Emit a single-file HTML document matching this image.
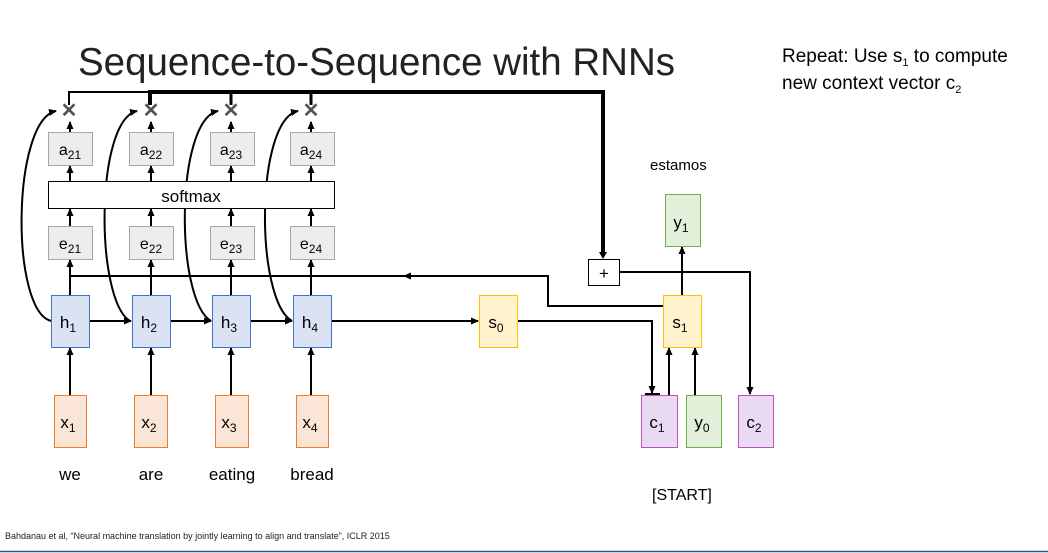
<!DOCTYPE html>
<html><head><meta charset="utf-8"><style>
html,body{margin:0;padding:0;background:#fff;}
svg{display:block;font-family:"Liberation Sans",sans-serif;}
</style></head><body>
<svg width="1048" height="553" viewBox="0 0 1048 553" xmlns="http://www.w3.org/2000/svg">
<defs>
<marker id="ah" markerWidth="8" markerHeight="8" refX="7" refY="4" orient="auto" markerUnits="userSpaceOnUse">
<path d="M0,0.5 L8,4 L0,7.5 z" fill="#000"/></marker>
</defs>
<text x="78" y="75" font-size="39" fill="#222" textLength="597" lengthAdjust="spacingAndGlyphs">Sequence-to-Sequence with RNNs</text>
<text x="782" y="62" font-size="19" fill="#000">Repeat: Use s<tspan font-size="11" dy="4">1</tspan><tspan dy="-4"> to compute</tspan></text>
<text x="782" y="89" font-size="19" fill="#000">new context vector c<tspan font-size="11" dy="4">2</tspan></text>
<text x="650" y="170" font-size="15">estamos</text>
<text x="652" y="500" font-size="16">[START]</text>
<text x="5" y="539" font-size="9" fill="#222">Bahdanau et al, “Neural machine translation by jointly learning to align and translate”, ICLR 2015</text>
<line x1="0" y1="551.5" x2="1048" y2="551.5" stroke="#2f5597" stroke-width="1.5"/>

<path d="M69,105 V92 H150" fill="none" stroke="#000" stroke-width="2"/>
<path d="M150,105 V92 H603 V253" fill="none" stroke="#000" stroke-width="4"/>
<path d="M599,252 L603,259 L607,252 z" fill="#000"/>
<line x1="231" y1="92" x2="231" y2="105" stroke="#000" stroke-width="3"/>
<line x1="311" y1="92" x2="311" y2="105" stroke="#000" stroke-width="3"/>

<g font-size="20" font-weight="bold" fill="#555" text-anchor="middle">
<text x="69" y="117">✕</text><text x="151" y="117">✕</text><text x="231" y="117">✕</text><text x="311" y="117">✕</text>
</g>

<g stroke="#000" stroke-width="2" fill="none">
<line x1="70" y1="132" x2="70" y2="122" marker-end="url(#ah)"/>
<line x1="151" y1="132" x2="151" y2="122" marker-end="url(#ah)"/>
<line x1="231" y1="132" x2="231" y2="122" marker-end="url(#ah)"/>
<line x1="311" y1="132" x2="311" y2="122" marker-end="url(#ah)"/>
<line x1="70" y1="181" x2="70" y2="166" marker-end="url(#ah)"/>
<line x1="151" y1="181" x2="151" y2="166" marker-end="url(#ah)"/>
<line x1="231" y1="181" x2="231" y2="166" marker-end="url(#ah)"/>
<line x1="311" y1="181" x2="311" y2="166" marker-end="url(#ah)"/>
<line x1="70" y1="226" x2="70" y2="209" marker-end="url(#ah)"/>
<line x1="151" y1="226" x2="151" y2="209" marker-end="url(#ah)"/>
<line x1="231" y1="226" x2="231" y2="209" marker-end="url(#ah)"/>
<line x1="311" y1="226" x2="311" y2="209" marker-end="url(#ah)"/>
<line x1="70" y1="295" x2="70" y2="260" marker-end="url(#ah)"/>
<line x1="151" y1="295" x2="151" y2="260" marker-end="url(#ah)"/>
<line x1="231" y1="295" x2="231" y2="260" marker-end="url(#ah)"/>
<line x1="311" y1="295" x2="311" y2="260" marker-end="url(#ah)"/>
<line x1="70" y1="395" x2="70" y2="348" marker-end="url(#ah)"/>
<line x1="151" y1="395" x2="151" y2="348" marker-end="url(#ah)"/>
<line x1="231" y1="395" x2="231" y2="348" marker-end="url(#ah)"/>
<line x1="311" y1="395" x2="311" y2="348" marker-end="url(#ah)"/>
<line x1="89" y1="321" x2="131" y2="321" marker-end="url(#ah)"/>
<line x1="170" y1="321" x2="211" y2="321" marker-end="url(#ah)"/>
<line x1="250" y1="321" x2="292" y2="321" marker-end="url(#ah)"/>
<line x1="331" y1="321" x2="478" y2="321" marker-end="url(#ah)"/>
<path d="M51,321 C10,310 12,120 56,111" marker-end="url(#ah)"/>
<path d="M130,321 C95,300 95,120 137,111" marker-end="url(#ah)"/>
<path d="M211,321 C175,300 175,120 218,111" marker-end="url(#ah)"/>
<path d="M292,321 C255,300 255,120 298,111" marker-end="url(#ah)"/>
<path d="M663,306 H548 V276 H70"/>
<line x1="420" y1="276" x2="404" y2="276" marker-end="url(#ah)"/>
<path d="M517,321 H652 V393" marker-end="url(#ah)"/>
<line x1="645" y1="394" x2="660" y2="394"/>
<line x1="669" y1="395" x2="669" y2="348" marker-end="url(#ah)"/>
<line x1="695" y1="395" x2="695" y2="348" marker-end="url(#ah)"/>
<line x1="682" y1="295" x2="682" y2="247" marker-end="url(#ah)"/>
<path d="M620,272 H750 V394" marker-end="url(#ah)"/>
</g>

<g fill="#ededed" stroke="#a6a6a6">
<rect x="48.5" y="132.5" width="44" height="33"/><rect x="129.5" y="132.5" width="44" height="33"/><rect x="210.5" y="132.5" width="44" height="33"/><rect x="290.5" y="132.5" width="44" height="33"/>
<rect x="48.5" y="226.5" width="44" height="33"/><rect x="129.5" y="226.5" width="44" height="33"/><rect x="210.5" y="226.5" width="44" height="33"/><rect x="290.5" y="226.5" width="44" height="33"/>
</g>
<rect x="48.5" y="181.5" width="286" height="27" fill="#fff" stroke="#000"/>
<text x="191" y="202" font-size="17" text-anchor="middle">softmax</text>
<g font-size="16" text-anchor="middle">
<text x="70" y="155">a<tspan font-size="12" dy="4">21</tspan></text>
<text x="151" y="155">a<tspan font-size="12" dy="4">22</tspan></text>
<text x="231" y="155">a<tspan font-size="12" dy="4">23</tspan></text>
<text x="311" y="155">a<tspan font-size="12" dy="4">24</tspan></text>
<text x="70" y="249">e<tspan font-size="12" dy="4">21</tspan></text>
<text x="151" y="249">e<tspan font-size="12" dy="4">22</tspan></text>
<text x="231" y="249">e<tspan font-size="12" dy="4">23</tspan></text>
<text x="311" y="249">e<tspan font-size="12" dy="4">24</tspan></text>
</g>

<g fill="#dae3f3" stroke="#4472c4">
<rect x="51.5" y="295.5" width="38" height="52"/><rect x="132.5" y="295.5" width="38" height="52"/><rect x="212.5" y="295.5" width="38" height="52"/><rect x="293.5" y="295.5" width="38" height="52"/>
</g>
<g fill="#fbe5d6" stroke="#ed7d31">
<rect x="54.5" y="395.5" width="32" height="52"/><rect x="134.5" y="395.5" width="33" height="52"/><rect x="215.5" y="395.5" width="33" height="52"/><rect x="296.5" y="395.5" width="32" height="52"/>
</g>
<g fill="#fff2cc" stroke="#ffc000">
<rect x="479.5" y="295.5" width="38" height="52"/><rect x="663.5" y="295.5" width="38" height="52"/>
</g>
<g fill="#e2f0d9" stroke="#70ad47">
<rect x="665.5" y="194.5" width="35" height="52"/><rect x="686.5" y="395.5" width="35" height="52"/>
</g>
<g fill="#ead9f2" stroke="#c04fc0">
<rect x="641.5" y="395.5" width="36" height="52"/><rect x="738.5" y="395.5" width="35" height="52"/>
</g>
<rect x="588.5" y="259.5" width="31" height="26" fill="#fff" stroke="#000"/>
<text x="604" y="279" font-size="17" text-anchor="middle">+</text>

<g font-size="17" text-anchor="middle">
<text x="68" y="328">h<tspan font-size="12" dy="4">1</tspan></text>
<text x="149" y="328">h<tspan font-size="12" dy="4">2</tspan></text>
<text x="229" y="328">h<tspan font-size="12" dy="4">3</tspan></text>
<text x="310" y="328">h<tspan font-size="12" dy="4">4</tspan></text>
<text x="68" y="428">x<tspan font-size="12" dy="4">1</tspan></text>
<text x="149" y="428">x<tspan font-size="12" dy="4">2</tspan></text>
<text x="229" y="428">x<tspan font-size="12" dy="4">3</tspan></text>
<text x="310" y="428">x<tspan font-size="12" dy="4">4</tspan></text>
<text x="496" y="328">s<tspan font-size="12" dy="4">0</tspan></text>
<text x="680" y="328">s<tspan font-size="12" dy="4">1</tspan></text>
<text x="681" y="228">y<tspan font-size="12" dy="4">1</tspan></text>
<text x="702" y="428">y<tspan font-size="12" dy="4">0</tspan></text>
<text x="657" y="428">c<tspan font-size="12" dy="4">1</tspan></text>
<text x="754" y="428">c<tspan font-size="12" dy="4">2</tspan></text>
</g>
<g font-size="17" text-anchor="middle">
<text x="70" y="480">we</text><text x="151" y="480">are</text><text x="232" y="480">eating</text><text x="312" y="480">bread</text>
</g>
</svg>
</body></html>
